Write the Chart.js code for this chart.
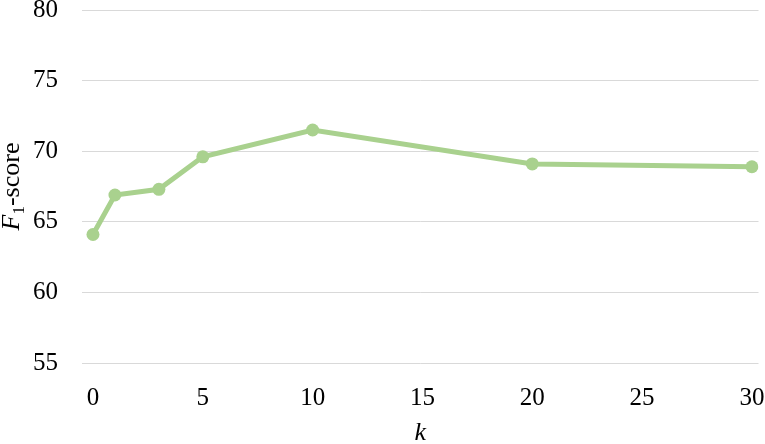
<!DOCTYPE html>
<html>
<head>
<meta charset="utf-8">
<script src="https://cdn.jsdelivr.net/npm/chart.js@4.4.0/dist/chart.umd.min.js"></script>
<style>
  html, body { margin: 0; padding: 0; background: #fff; overflow: hidden; }
  #wrap { width: 765px; height: 444px; position: relative; }
  #line-chart { display: block; }
</style>
</head>
<body>
<div id="wrap"><canvas id="line-chart" width="765" height="444"></canvas></div>
<script>
// values
var kValues = [0, 1, 3, 5, 10, 20, 30];
var f1Scores = [64.1, 66.9, 67.3, 69.6, 71.5, 69.1, 68.9];
var xTicks = [0, 5, 10, 15, 20, 25, 30];
var yTicks = [55, 60, 65, 70, 75, 80];

var serif = "'Liberation Serif', 'Times New Roman', serif";

// y title with italic F and subscript 1
var yTitlePlugin = {
    id: 'yTitle',
    afterDraw: function(chart) {
        var ctx = chart.ctx;
        var area = chart.chartArea;
        var parts = [
            { text: 'F', font: 'italic 26px ' + serif, dy: 0 },
            { text: '1', font: '17px ' + serif, dy: 5 },
            { text: '-score', font: '26px ' + serif, dy: 0 }
        ];
        ctx.save();
        var total = 0;
        parts.forEach(function(p) {
            ctx.font = p.font;
            p.w = ctx.measureText(p.text).width;
            total += p.w;
        });
        ctx.translate(19, (area.top + area.bottom) / 2);
        ctx.rotate(-Math.PI / 2);
        ctx.fillStyle = '#000';
        ctx.textBaseline = 'alphabetic';
        var x = -total / 2;
        parts.forEach(function(p) {
            ctx.font = p.font;
            ctx.fillText(p.text, x, p.dy);
            x += p.w;
        });
        ctx.restore();
    }
};

var points = kValues.map(function(k, i) {
    return { x: k, y: f1Scores[i] };
});

new Chart(document.getElementById('line-chart'), {
    type: 'line',
    data: {
        datasets: [{
            data: points,
            borderColor: '#a9d18e',
            backgroundColor: '#a9d18e',
            borderWidth: 5,
            pointRadius: 6.5,
            pointHoverRadius: 6.5,
            pointBorderWidth: 0,
            fill: false,
            tension: 0
        }]
    },
    options: {
        responsive: false,
        animation: false,
        layout: { padding: { top: 10, right: 0, left: 0, bottom: 0 } },
        plugins: {
            legend: { display: false },
            tooltip: { enabled: false }
        },
        scales: {
            x: {
                type: 'linear',
                min: -0.5,
                max: 30.3,
                afterBuildTicks: function(scale) {
                    scale.ticks = xTicks.map(function(v) { return { value: v }; });
                },
                afterFit: function(scale) {
                    scale.height = 81;
                    scale.paddingLeft = 0;
                    scale.paddingRight = 0;
                },
                grid: { display: false, drawTicks: false },
                border: { display: false },
                ticks: {
                    color: '#000',
                    font: { family: serif, size: 25 },
                    padding: 20,
                    maxRotation: 0
                },
                title: {
                    display: true,
                    text: 'k',
                    color: '#000',
                    font: { family: serif, size: 26, style: 'italic', lineHeight: 0.8 },
                    padding: { top: 0, bottom: 0 }
                }
            },
            y: {
                min: 55,
                max: 80,
                afterBuildTicks: function(scale) {
                    scale.ticks = yTicks.map(function(v) { return { value: v }; });
                },
                afterFit: function(scale) {
                    scale.width = 82;
                    scale.paddingTop = 0;
                    scale.paddingBottom = 0;
                },
                grid: { color: '#d9d9d9', lineWidth: 1, drawTicks: false },
                border: { display: false },
                ticks: {
                    color: '#000',
                    font: { family: serif, size: 25 },
                    padding: 24
                }
            }
        }
    },
    plugins: [yTitlePlugin]
});
</script>
</body>
</html>
